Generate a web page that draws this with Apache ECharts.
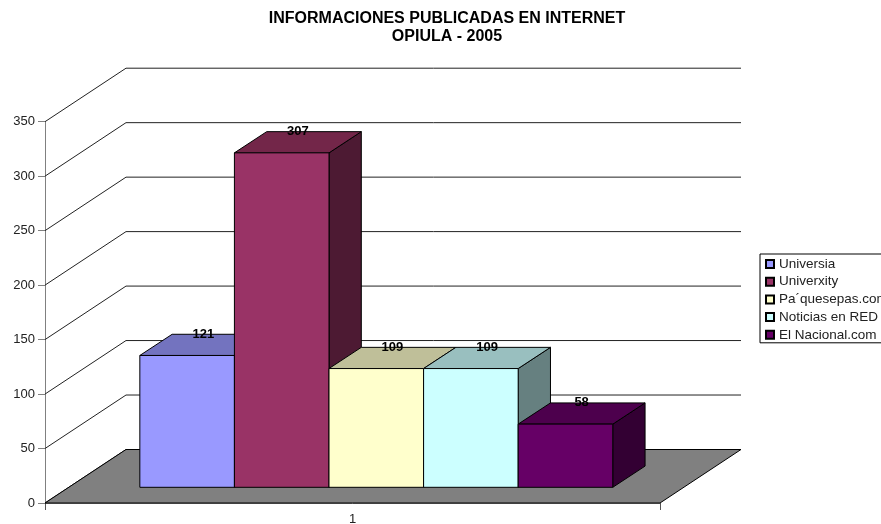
<!DOCTYPE html>
<html><head><meta charset="utf-8">
<style>html,body{margin:0;padding:0;background:#fff}#c{width:881px;height:524px}</style>
<script src="https://cdn.jsdelivr.net/npm/echarts@6/dist/echarts.min.js"></script>
</head><body><div id="c"></div>
<script>
const categories = ['1'];
const seriesNames = ['Universia', 'Univerxity', 'Pa´quesepas.com', 'Noticias en RED', 'El Nacional.com'];
const seriesValues = [121, 307, 109, 109, 58];
const yTicks = [0, 50, 100, 150, 200, 250, 300, 350];
const frontColors = ['#9999FF', '#993366', '#FFFFCC', '#CCFFFF', '#660066'];
const topColors = ['#7373BF', '#732649', '#BFBF99', '#99BFBF', '#4D004D'];
const sideColors = ['#4D4D80', '#4D1A33', '#808066', '#668080', '#330033'];
const titleLines = ['INFORMACIONES PUBLICADAS EN INTERNET', 'OPIULA - 2005'];

const FONT = '"Liberation Sans", Arial, sans-serif';
const WALL_DX = 81, WALL_DY = 53.5;       // depth of the whole chart box
const BAR_DX = 32.3, BAR_DY = 21.2;       // depth of a bar
const PLANE_DX = 23.8, PLANE_DY = 15.7;   // shift of the bars' front plane
const GAP_RATIO = 0.1155;                 // gap on each side of the bar group, share of the band
const line = '#000';

function wallItem(params, api) {
  const cs = params.coordSys;
  const y = api.coord([0, api.value(1)])[1];
  const x0 = cs.x, x1 = cs.x + cs.width;
  return {
    type: 'polyline', silent: true,
    shape: { points: [[x0, y], [x0 + WALL_DX, y - WALL_DY], [x1 + WALL_DX, y - WALL_DY]] },
    style: { stroke: '#222', lineWidth: 1, fill: null }
  };
}
function floorItem(params, api) {
  const cs = params.coordSys;
  const y = api.coord([0, 0])[1];
  const x0 = cs.x, x1 = cs.x + cs.width;
  return {
    type: 'polygon', silent: true,
    shape: { points: [[x0, y], [x0 + WALL_DX, y - WALL_DY], [x1 + WALL_DX, y - WALL_DY], [x1, y]] },
    style: { fill: '#808080', stroke: line, lineWidth: 1 }
  };
}
function barItem(idx) {
  return function (params, api) {
    const band = api.size([1, 0])[0];
    const barW = band * (1 - 2 * GAP_RATIO) / seriesValues.length;
    const c = api.coord([api.value(0), api.value(1)]);
    const b = api.coord([api.value(0), 0]);
    const xl = c[0] + PLANE_DX + (idx - seriesValues.length / 2) * barW;
    const xr = xl + barW;
    const yt = c[1] - PLANE_DY, yb = b[1] - PLANE_DY;
    const stroke = { stroke: line, lineWidth: 1, lineJoin: 'round' };
    return {
      type: 'group', silent: true,
      children: [
        { type: 'polygon', shape: { points: [[xr, yt], [xr + BAR_DX, yt - BAR_DY], [xr + BAR_DX, yb - BAR_DY], [xr, yb]] },
          style: Object.assign({ fill: sideColors[idx] }, stroke) },
        { type: 'polygon', shape: { points: [[xl, yt], [xl + BAR_DX, yt - BAR_DY], [xr + BAR_DX, yt - BAR_DY], [xr, yt]] },
          style: Object.assign({ fill: topColors[idx] }, stroke) },
        { type: 'polygon', shape: { points: [[xl, yt], [xr, yt], [xr, yb], [xl, yb]] },
          style: Object.assign({ fill: frontColors[idx] }, stroke) },
        { type: 'text', z2: 100,
          style: { x: (xl + xr) / 2 + BAR_DX / 2, y: yt - BAR_DY, text: String(api.value(1)), align: 'center', verticalAlign: 'middle',
                   fill: '#000', font: 'bold 13px ' + FONT } }
      ]
    };
  };
}

const series = [
  { type: 'custom', name: '_wall', z: 1, silent: true, renderItem: wallItem, data: yTicks.map(t => [0, t]), encode: { x: 0, y: 1 } },
  { type: 'custom', name: '_floor', z: 2, silent: true, renderItem: floorItem, data: [[0, 0]], encode: { x: 0, y: 1 } }
];
seriesNames.forEach((n, i) => series.push({
  type: 'custom', name: n, z: 3, silent: true, renderItem: barItem(i),
  itemStyle: { color: frontColors[i], borderColor: '#000', borderWidth: 1 },
  data: [[0, seriesValues[i]]], encode: { x: 0, y: 1 }
}));

const chart = echarts.init(document.getElementById('c'), null, { renderer: 'canvas' });
chart.setOption({
  animation: false,
  backgroundColor: '#fff',
  textStyle: { fontFamily: FONT },
  title: {
    text: titleLines.join('\n'), left: 442, top: 4, textAlign: 'center',
    textStyle: { fontFamily: FONT, fontWeight: 'bold', fontSize: 16, color: '#000', lineHeight: 18.3 }
  },
  legend: {
    data: seriesNames, orient: 'vertical', left: 760, top: 254,
    padding: [3, 5, 1, 5], itemGap: 3.7, itemWidth: 8, itemHeight: 8,
    borderColor: '#000', borderWidth: 1, backgroundColor: '#fff', selectedMode: false,
    icon: 'rect', textStyle: { fontFamily: FONT, fontSize: 13.5, color: '#222', lineHeight: 13 }
  },
  grid: { left: 45, right: 221, top: 121.7, bottom: 21, outerBoundsMode: 'none' },
  xAxis: {
    type: 'category', data: categories,
    axisLine: { show: true, onZero: false, lineStyle: { color: '#808080', width: 1 } },
    axisTick: { show: true, alignWithLabel: false, length: 7, lineStyle: { color: '#555' } },
    axisLabel: { margin: 10, fontFamily: FONT, fontSize: 13, color: '#222' },
    splitLine: { show: false }
  },
  yAxis: {
    type: 'value', min: 0, max: 350, interval: 50,
    axisLine: { show: true, lineStyle: { color: '#808080', width: 1 } },
    axisTick: { show: true, length: 7, lineStyle: { color: '#808080' } },
    axisLabel: { margin: 10, fontFamily: FONT, fontSize: 13, color: '#222' },
    splitLine: { show: false }
  },
  series
});
</script></body></html>
